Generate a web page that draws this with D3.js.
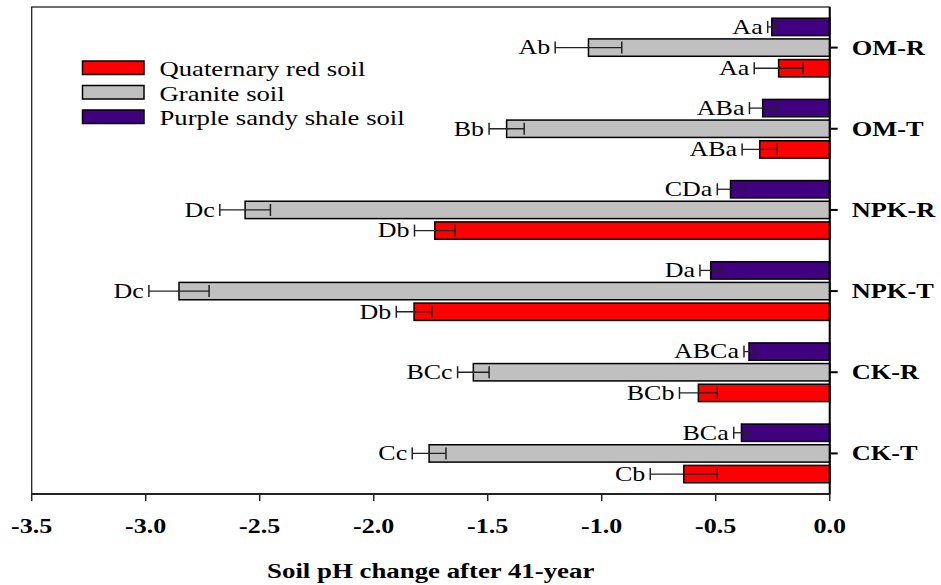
<!DOCTYPE html>
<html>
<head>
<meta charset="utf-8">
<script src="https://cdn.jsdelivr.net/npm/d3@7/dist/d3.min.js"></script>
<style>
  html, body { margin: 0; padding: 0; background: #fff; }
  svg { display: block; }
  text { font-family: "Liberation Serif", "Times New Roman", Times, serif; fill: #000; }
</style>
</head>
<body>
<svg id="chart" width="941" height="585"></svg>
<script>
// Treatments, top to bottom
const categories = ["OM-R", "OM-T", "NPK-R", "NPK-T", "CK-R", "CK-T"];

// Soil types and their fills
const seriesNames = ["Quaternary red soil", "Granite soil", "Purple sandy shale soil"];
const seriesColors = ["#ff0000", "#c0c0c0", "#40007f"];

// Mean pH change per treatment
const redValues    = [-0.224, -0.307, -1.732, -1.823, -0.576, -0.640];
const greyValues   = [-1.058, -1.417, -2.564, -2.854, -1.563, -1.757];
const purpleValues = [-0.254, -0.294, -0.435, -0.522, -0.354, -0.387];

// Standard deviations
const redErr    = [0.107, 0.077, 0.089, 0.078, 0.083, 0.147];
const greyErr   = [0.146, 0.077, 0.111, 0.132, 0.069, 0.074];
const purpleErr = [0.018, 0.058, 0.058, 0.047, 0.022, 0.034];

// Significance letters
const redLetters    = ["Aa", "ABa", "Db", "Db", "BCb", "Cb"];
const greyLetters   = ["Ab", "Bb", "Dc", "Dc", "BCc", "Cc"];
const purpleLetters = ["Aa", "ABa", "CDa", "Da", "ABCa", "BCa"];

const xTicks = [-3.5, -3.0, -2.5, -2.0, -1.5, -1.0, -0.5, 0.0];
const xTitle = "Soil pH change after 41-year";

// Bars inside each group are stacked purple (top), grey, red (bottom)
const series = [
  { key: "purple", name: seriesNames[2], color: seriesColors[2], values: purpleValues, err: purpleErr, letters: purpleLetters },
  { key: "grey",   name: seriesNames[1], color: seriesColors[1], values: greyValues,   err: greyErr,   letters: greyLetters },
  { key: "red",    name: seriesNames[0], color: seriesColors[0], values: redValues,    err: redErr,    letters: redLetters }
];

const svg = d3.select("#chart");
const plotLeft = 31.7, plotRight = 829.7, plotTop = 7, plotBottom = 494;

const x = d3.scaleLinear().domain([-3.5, 0]).range([plotLeft, plotRight]);
const y = d3.scaleBand().domain(categories).range([plotTop, plotBottom]);
const ySub = d3.scaleBand().domain(series.map(s => s.key))
  .range([-31, 31]).paddingInner(0.16).paddingOuter(0.08);

// Horizontally stretched text helper
function stretched(g, px, py, str, opts) {
  return g.append("g")
    .attr("transform", `translate(${px},${py}) scale(${opts.sx},1)`)
    .append("text")
    .attr("x", 0).attr("y", 0)
    .attr("font-size", opts.size)
    .attr("font-weight", opts.bold ? "bold" : "normal")
    .attr("text-anchor", opts.anchor || "start")
    .text(str);
}

// Frame
svg.append("rect")
  .attr("x", plotLeft).attr("y", plotTop)
  .attr("width", plotRight - plotLeft).attr("height", plotBottom - plotTop)
  .attr("fill", "none").attr("stroke", "#222").attr("stroke-width", 1.3);

// Bars, error bars and letters
const bars = svg.append("g");
const barH = ySub.bandwidth();
const capH = 12;
series.forEach(s => {
  categories.forEach((c, i) => {
    const cy = y(c) + y.bandwidth() / 2 + ySub(s.key) + barH / 2;
    const v = s.values[i], e = s.err[i];
    bars.append("rect")
      .attr("x", x(v)).attr("y", cy - barH / 2)
      .attr("width", x(0) - x(v)).attr("height", barH)
      .attr("fill", s.color).attr("stroke", "#000").attr("stroke-width", 1.5);
    const x1 = x(v - e), x2 = x(v + e);
    bars.append("line").attr("x1", x1).attr("x2", x2).attr("y1", cy).attr("y2", cy)
      .attr("stroke", "#222").attr("stroke-width", 1.3);
    [x1, x2].forEach(xx => bars.append("line")
      .attr("x1", xx).attr("x2", xx).attr("y1", cy - capH / 2).attr("y2", cy + capH / 2)
      .attr("stroke", "#222").attr("stroke-width", 1.5));
    stretched(bars, x1 - 5, cy + 6.8, s.letters[i], { size: 20, sx: 1.3, anchor: "end" });
  });
});

// Right category axis
const yAxis = svg.append("g");
yAxis.append("line").attr("x1", plotRight).attr("x2", plotRight).attr("y1", plotTop).attr("y2", plotBottom)
  .attr("stroke", "#000").attr("stroke-width", 2);
categories.forEach(c => {
  const cy = y(c) + y.bandwidth() / 2;
  yAxis.append("line").attr("x1", plotRight).attr("x2", plotRight + 8).attr("y1", cy).attr("y2", cy)
    .attr("stroke", "#000").attr("stroke-width", 2);
  stretched(yAxis, plotRight + 22, cy + 7, c, { size: 20, bold: true, sx: 1.32 });
});

// Bottom value axis
const xAxis = svg.append("g");
xAxis.append("line").attr("x1", plotLeft).attr("x2", plotRight).attr("y1", plotBottom).attr("y2", plotBottom)
  .attr("stroke", "#222").attr("stroke-width", 1.8);
xTicks.forEach(t => {
  xAxis.append("line").attr("x1", x(t)).attr("x2", x(t)).attr("y1", plotBottom).attr("y2", plotBottom + 7)
    .attr("stroke", "#222").attr("stroke-width", 1.5);
  stretched(xAxis, x(t), 532.5, d3.format(".1f")(t).replace("\u2212", "-"), { size: 21, bold: true, sx: 1.24, anchor: "middle" });
});
stretched(svg, (plotLeft + plotRight) / 2, 578, xTitle, { size: 22, bold: true, sx: 1.22, anchor: "middle" });

// Legend
const legend = svg.append("g");
seriesNames.forEach((n, i) => {
  const ly = 61 + i * 24.5;
  legend.append("rect").attr("x", 82.5).attr("y", ly).attr("width", 61.5).attr("height", 13.5)
    .attr("fill", seriesColors[i]).attr("stroke", "#000").attr("stroke-width", 1.5);
  stretched(legend, 159.5, ly + 15, n, { size: 21, sx: 1.27 });
});
</script>
</body>
</html>
